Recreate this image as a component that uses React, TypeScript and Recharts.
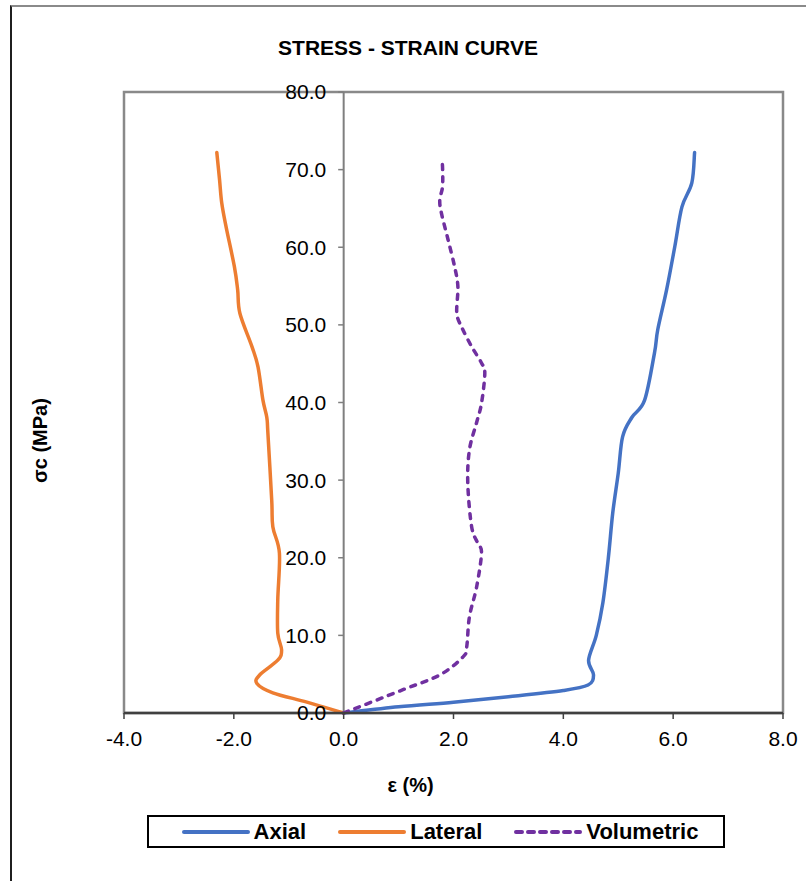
import { LineChart, Line, XAxis, YAxis, ReferenceLine, ReferenceArea, Legend } from 'recharts';

const FONT = '"Liberation Sans", Arial, sans-serif';

// axial strain (%) vs stress (MPa)
const axialStrain = [0, 1.0, 2.0, 3.0, 4.0, 4.45, 4.55, 4.46, 4.6, 4.72, 4.82, 4.9, 5.0, 5.08, 5.25, 5.48, 5.66, 5.72, 5.88, 6.03, 6.16, 6.34, 6.39];
const axialStress = [0, 0.8, 1.4, 2.1, 2.9, 3.6, 4.9, 6.8, 10.0, 14.2, 20.0, 25.8, 30.9, 35.6, 38.1, 40.3, 46.4, 49.4, 54.5, 60.1, 65.2, 68.3, 72.2];

const lateralStrain = [0, -0.67, -1.29, -1.58, -1.53, -1.2, -1.13, -1.2, -1.2, -1.17, -1.29, -1.31, -1.38, -1.4, -1.47, -1.56, -1.67, -1.89, -1.93, -1.99, -2.14, -2.22, -2.26, -2.31];
const lateralStress = [0, 1.4, 2.6, 3.8, 4.9, 6.8, 8.1, 10.3, 14.6, 20.6, 24.0, 27.4, 36.1, 38.1, 40.3, 44.6, 47.2, 51.5, 54.5, 57.5, 62.6, 65.7, 68.7, 72.2];

const volStrain = [0, 1.08, 1.75, 2.17, 2.24, 2.29, 2.42, 2.51, 2.44, 2.33, 2.26, 2.29, 2.42, 2.51, 2.57, 2.51, 2.33, 2.15, 2.06, 2.08, 2.02, 1.9, 1.78, 1.75, 1.8, 1.8, 1.78];
const volStress = [0, 3.0, 4.9, 7.2, 8.5, 12.4, 16.2, 20.6, 21.9, 24.0, 29.6, 33.9, 37.4, 39.9, 43.8, 45.1, 47.2, 49.7, 51.5, 54.9, 57.5, 61.0, 64.4, 66.1, 67.8, 70.4, 71.5];

const X_TICKS = [-4, -2, 0, 2, 4, 6, 8];
const Y_TICKS = [0, 10, 20, 30, 40, 50, 60, 70, 80];

const toPoints = (xs: number[], ys: number[]) => xs.map((x, i) => ({ x, y: ys[i] }));

const SERIES = [
  { name: 'Axial', color: '#4472C4', dash: undefined, data: toPoints(axialStrain, axialStress) },
  { name: 'Lateral', color: '#ED7D31', dash: undefined, data: toPoints(lateralStrain, lateralStress) },
  { name: 'Volumetric', color: '#7030A0', dash: '5 7', data: toPoints(volStrain, volStress) },
];

// excel-like smoothing (catmull-rom through every point)
const smooth = (context: any) => {
  let pts: number[][] = [];
  return {
    areaStart() {},
    areaEnd() {},
    lineStart() { pts = []; },
    point(x: number, y: number) { pts.push([+x, +y]); },
    lineEnd() {
      if (!pts.length) return;
      context.moveTo(pts[0][0], pts[0][1]);
      for (let i = 0; i < pts.length - 1; i++) {
        const p0 = pts[i - 1] || pts[i];
        const p1 = pts[i];
        const p2 = pts[i + 1];
        const p3 = pts[i + 2] || p2;
        const k = 1 / 6;
        context.bezierCurveTo(
          p1[0] + (p2[0] - p0[0]) * k, p1[1] + (p2[1] - p0[1]) * k,
          p2[0] - (p3[0] - p1[0]) * k, p2[1] - (p3[1] - p1[1]) * k,
          p2[0], p2[1]
        );
      }
    },
  };
};

const YLabel = ({ viewBox }: any) => {
  const cx = viewBox.x + 30;
  const cy = viewBox.y + viewBox.height / 2 + 38;
  return (
    <text x={cx} y={cy} transform={`rotate(-90 ${cx} ${cy})`} textAnchor="middle" dominantBaseline="central"
      style={{ fontFamily: FONT, fontSize: 20, fontWeight: 'bold', fill: '#000' }}>
      σc (MPa)
    </text>
  );
};

const XLabel = ({ viewBox }: any) => {
  const cx = viewBox.x + viewBox.width / 2 - 43;
  const cy = viewBox.y + 72;
  return (
    <text x={cx} y={cy} textAnchor="middle" dominantBaseline="central"
      style={{ fontFamily: FONT, fontSize: 20, fontWeight: 'bold', fill: '#000' }}>
      ε (%)
    </text>
  );
};

const LegendBox = () => (
  <div style={{
    display: 'flex', justifyContent: 'center', alignItems: 'center', height: '100%',
    border: '2px solid #000', boxSizing: 'border-box', fontFamily: FONT, fontSize: 22, fontWeight: 'bold',
    paddingLeft: 8,
  }}>
    {SERIES.map((s, i) => (
      <div key={s.name} style={{ display: 'flex', alignItems: 'center', marginLeft: i ? 32 : 0 }}>
        <svg width={68} height={8}>
          <line x1={2} y1={4} x2={66} y2={4} stroke={s.color} strokeWidth={4} strokeDasharray={s.dash ? '6 6' : undefined} strokeLinecap="round" />
        </svg>
        <span style={{ marginLeft: 4 }}>{s.name}</span>
      </div>
    ))}
  </div>
);

export default function App() {
  return (
    <div style={{ position: 'absolute', left: 0, top: 0, width: 806, height: 881, overflow: 'hidden', background: '#fff' }}>
      <div style={{
        position: 'absolute', left: 10, top: 5, width: 820, height: 900,
        borderTop: '2px solid #8a8a8a', borderLeft: '2px solid #1f1f1f',
      }} />
      <div style={{
        position: 'absolute', left: 10, width: 796, top: 36, textAlign: 'center',
        fontFamily: FONT, fontSize: 21, fontWeight: 'bold', lineHeight: '24px',
      }}>
        STRESS - STRAIN CURVE
      </div>
      <div style={{ position: 'absolute', left: 0, top: 0 }}>
        <LineChart width={806} height={881} margin={{ top: 92, right: 23, left: 10, bottom: 100 }}>
          <XAxis
            type="number"
            dataKey="x"
            domain={[-4, 8]}
            ticks={X_TICKS}
            allowDataOverflow
            tickFormatter={(v: number) => v.toFixed(1)}
            height={68}
            axisLine={{ stroke: '#404040', strokeWidth: 2.5 }}
            tickLine={{ stroke: '#404040', strokeWidth: 1.5 }}
            tickSize={6}
            tickMargin={12}
            tick={{ fill: '#000', fontSize: 21, fontFamily: FONT }}
            label={XLabel}
          />
          <YAxis
            type="number"
            dataKey="y"
            domain={[0, 80]}
            width={114}
            tick={false}
            axisLine={false}
            tickLine={false}
            label={YLabel}
          />
          <ReferenceArea x1={-4} x2={8} y1={0} y2={80} fill="none" stroke="#898989" strokeWidth={2.5} />
          <ReferenceLine x={0} stroke="#7f7f7f" strokeWidth={2} />
          {Y_TICKS.map((t) => (
            <ReferenceLine
              key={t}
              segment={[{ x: -0.1, y: t }, { x: 0, y: t }]}
              stroke="#7f7f7f"
              strokeWidth={1.5}
              label={{ value: t.toFixed(1), position: 'left', offset: 12, fill: '#000', fontSize: 21, fontFamily: FONT }}
            />
          ))}
          {SERIES.map((s) => (
            <Line
              key={s.name}
              name={s.name}
              data={s.data}
              dataKey="y"
              type={smooth as any}
              stroke={s.color}
              strokeWidth={3.5}
              strokeDasharray={s.dash}
              strokeLinecap="round"
              dot={false}
              activeDot={false}
              isAnimationActive={false}
            />
          ))}
          <Legend
            layout="horizontal"
            verticalAlign="middle"
            align="center"
            content={LegendBox}
            wrapperStyle={{ top: 815, left: 147, width: 578, height: 33 }}
          />
        </LineChart>
      </div>
    </div>
  );
}
